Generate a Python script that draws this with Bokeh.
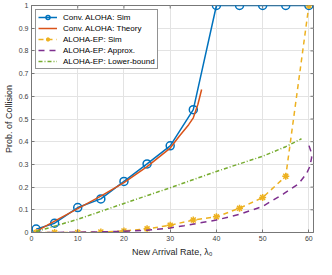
import math
from bokeh.plotting import figure
from bokeh.models import Legend, LegendItem, FixedTicker
from bokeh.embed import file_html
from bokeh.resources import INLINE

# ---- data ----
lam_sim = [1, 5, 10, 15, 20, 25, 30, 35, 40, 45, 50, 55, 60]
conv_sim = [0.015, 0.041, 0.110, 0.148, 0.225, 0.302, 0.382, 0.541, 1, 1, 1, 1, 1]
lam_theory = [1, 5, 10, 15, 20, 25, 30, 32, 34, 35, 36, 36.8]
conv_theory = [0.005, 0.05, 0.105, 0.16, 0.22, 0.29, 0.372, 0.425, 0.475, 0.505, 0.565, 0.63]
ep_sim = [0, 0, 0.0005, 0.002, 0.007, 0.016, 0.032, 0.055, 0.069, 0.107, 0.154, 0.248, 1]
approx_lam = [1, 10, 20, 25, 30, 33, 40, 45, 50, 54.5, 57.8, 59.5, 60.2, 60.6, 60.4, 59.9, 59.6]
approx_p = [0, 0.001, 0.005, 0.01, 0.02, 0.03, 0.055, 0.08, 0.115, 0.17, 0.215, 0.26, 0.29, 0.33, 0.36, 0.39, 0.40]
lower_lam = [1, 10, 20, 30, 40, 50, 55, 58.4]
lower_p = [0.004, 0.058, 0.128, 0.197, 0.269, 0.336, 0.378, 0.413]

x_min, x_max = 0, 61
y_min, y_max = 0, 1
x_ticks = [0, 10, 20, 30, 40, 50, 60]
y_ticks = [0, 0.1, 0.2, 0.3, 0.4, 0.5, 0.6, 0.7, 0.8, 0.9, 1]
y_tick_labels = ["0", "0.1", "0.2", "0.3", "0.4", "0.5", "0.6", "0.7", "0.8", "0.9", "1"]

names = ["Conv. ALOHA: Sim", "Conv. ALOHA: Theory", "ALOHA-EP: Sim",
         "ALOHA-EP: Approx.", "ALOHA-EP: Lower-bound"]

BLUE, ORANGE, YELLOW, PURPLE, GREEN = "#0072BD", "#D95319", "#EDB120", "#7E2F8E", "#77AC30"
AXC = "#777777"
FONT = "Liberation Sans"

p = figure(width=316, height=259, x_range=(x_min, x_max), y_range=(y_min, y_max),
           output_backend="svg", toolbar_location=None,
           min_border_left=24, min_border_right=3, min_border_top=5, min_border_bottom=26)
p.background_fill_color = "white"
p.border_fill_color = "white"
p.outline_line_color = AXC
p.outline_line_width = 1

for ax in (p.xaxis[0], p.yaxis[0]):
    ax.axis_line_color = AXC
    ax.major_tick_in = 3
    ax.major_tick_out = 0
    ax.minor_tick_line_color = None
    ax.major_tick_line_color = AXC
    ax.major_label_text_font = FONT
    ax.major_label_text_font_size = "7px"
    ax.major_label_text_color = "#404040"
    ax.axis_label_text_font = FONT
    ax.axis_label_text_font_size = "9px"
    ax.axis_label_text_font_style = "normal"
    ax.axis_label_text_color = "#262626"

p.xaxis.ticker = FixedTicker(ticks=x_ticks)
p.yaxis.ticker = FixedTicker(ticks=y_ticks)
p.yaxis.major_label_overrides = {t: l for t, l in zip(y_ticks, y_tick_labels)}
p.xaxis.axis_label = "New Arrival Rate, λ₀"
p.yaxis.axis_label = "Prob. of Collision"
p.xaxis.major_label_standoff = 3
p.yaxis.major_label_standoff = 3
p.xaxis.axis_label_standoff = 3
p.yaxis.axis_label_standoff = 2

p.grid.grid_line_color = "#e3e3e3"
p.xgrid.ticker = FixedTicker(ticks=x_ticks)
p.ygrid.ticker = FixedTicker(ticks=y_ticks)

# inward tick marks on the top and right edges of the box
p.ray(x=x_ticks, y=[y_max] * len(x_ticks), length=3, length_units="screen",
      angle=-math.pi / 2, line_color=AXC, line_width=1)
p.ray(x=[x_max] * len(y_ticks), y=y_ticks, length=3, length_units="screen",
      angle=math.pi, line_color=AXC, line_width=1)

# series
r1l = p.line(lam_sim, conv_sim, line_color=BLUE, line_width=1.5)
r1m = p.scatter(lam_sim, conv_sim, marker="circle", size=8, line_color=BLUE,
                fill_color=None, line_width=1.5)
r2 = p.line(lam_theory, conv_theory, line_color=ORANGE, line_width=1.5)
r3l = p.line(lam_sim, ep_sim, line_color=YELLOW, line_width=1.5, line_dash="5 4")
r3m = p.scatter(lam_sim, ep_sim, marker="asterisk", size=7, line_color=YELLOW, line_width=1.5)
r4 = p.line(approx_lam, approx_p, line_color=PURPLE, line_width=1.5, line_dash="6 5")
r5 = p.line(lower_lam, lower_p, line_color=GREEN, line_width=1.5, line_dash="4 2 1 2")

legend = Legend(items=[
    LegendItem(label=names[0], renderers=[r1l, r1m]),
    LegendItem(label=names[1], renderers=[r2]),
    LegendItem(label=names[2], renderers=[r3l, r3m]),
    LegendItem(label=names[3], renderers=[r4]),
    LegendItem(label=names[4], renderers=[r5]),
], location="top_left")
legend.margin = 4
legend.padding = 2
legend.spacing = 1
legend.glyph_width = 19
legend.glyph_height = 10
legend.label_height = 10
legend.label_standoff = 6
legend.label_text_font = FONT
legend.label_text_font_size = "8px"
legend.label_text_color = "#000000"
legend.border_line_color = "#262626"
legend.border_line_width = 0.8
legend.background_fill_alpha = 1
p.add_layout(legend, "center")

open("out.html", "w").write(file_html(p, INLINE))
